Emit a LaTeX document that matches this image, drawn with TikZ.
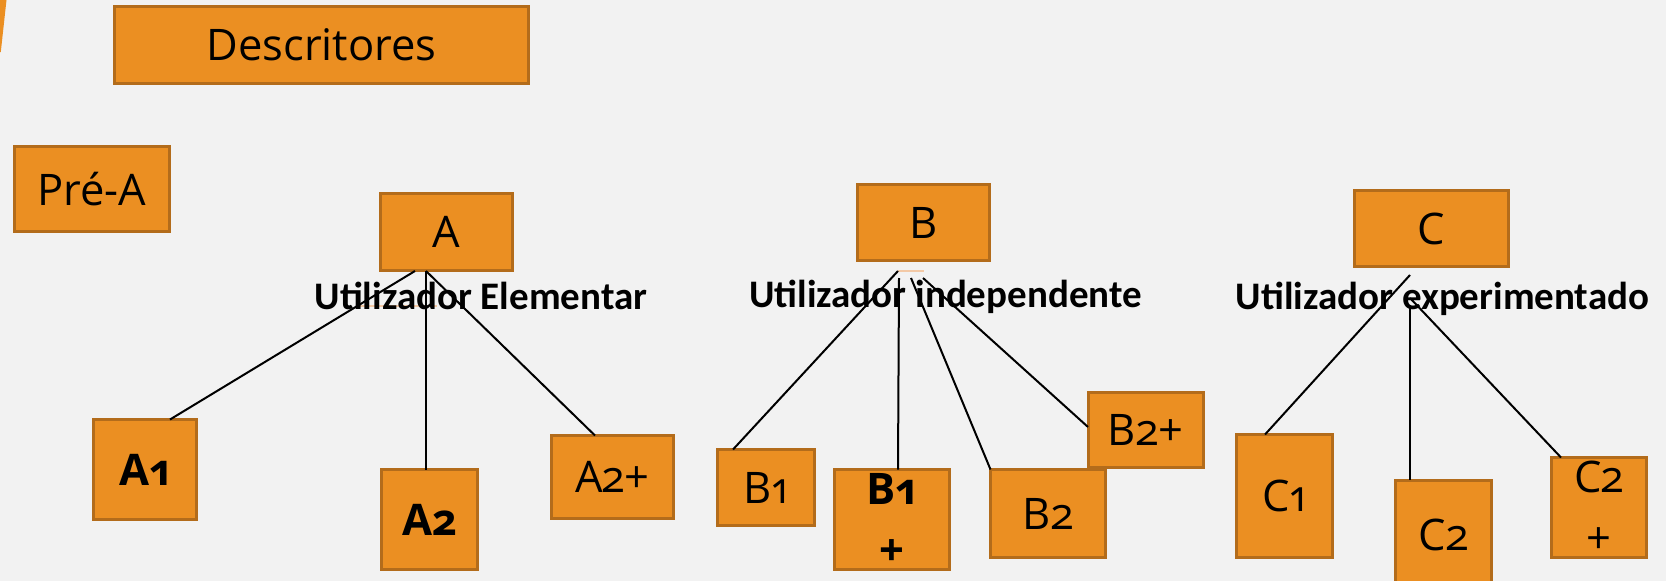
\documentclass[tikz,border=0pt]{standalone}
\usepackage{fontspec}
\setmainfont{Open Sans}[Numbers=OldStyle]
\newfontfamily\labfont{Carlito}
\definecolor{bg}{HTML}{F2F2F2}
\definecolor{boxfill}{HTML}{EB8F22}
\definecolor{boxline}{HTML}{B36C1B}
\definecolor{peach}{HTML}{F3C9A6}
\tikzset{
  box/.style={draw=boxline, fill=boxfill, line width=3pt, inner sep=0pt, outer sep=0pt,
    font=\fontsize{43.5}{61}\selectfont, align=center, text=black},
  lbl/.style={font=\labfont\bfseries\fontsize{39}{42}\selectfont, anchor=base, inner sep=0pt},
  conn/.style={draw=black, line width=2pt},
  artifact/.style={draw=peach, line width=2pt}
}
\begin{document}
\begin{tikzpicture}[x=1pt,y=-1pt]
\useasboundingbox (0,0) rectangle (1666,581);
\clip (0,0) rectangle (1666,581);
\fill[bg] (0,0) rectangle (1666,581);
\fill[boxfill] (0,0) -- (6.5,0) -- (0.8,52) -- (0,52) -- cycle;

% artifacts
\coordinate (pa1) at (358,306); \coordinate (pa2) at (437,306);
\coordinate (pb1) at (898,271); \coordinate (pb2) at (924,271);
\draw[artifact] (pa1) -- (pa2);
\draw[artifact] (pb1) -- (pb2);

% top boxes
\node[box, minimum width=414pt, minimum height=77pt] (desc) at (321.5,45) {Descritores};
\node[box, minimum width=155pt, minimum height=85pt] (prea) at (92,189) {Pré-A};
\node[box, minimum width=132pt, minimum height=77pt] (A) at (446.5,232) {A};
\node[box, minimum width=132pt, minimum height=76pt] (B) at (923.5,222.5) {B};
\node[box, minimum width=154pt, minimum height=76pt] (C) at (1431.5,228.5) {C};

% labels
\node[lbl] (la) at (481,309) {Utilizador Elementar};
\node[lbl] (lb) at (945.5,307) {Utilizador independente};
\node[lbl] (lc) at (1442.5,309) {Utilizador experimentado};

% bottom boxes
\node[box, minimum width=103pt, minimum height=100pt] (A1) at (145,469.5) {\bfseries A1};
\node[box, minimum width=96pt, minimum height=100pt] (A2) at (429.5,519.5) {\bfseries A2};
\node[box, minimum width=122pt, minimum height=83pt] (A2p) at (612.5,477) {A2+};
\node[box, minimum width=97pt, minimum height=76pt] (B1) at (766,487.5) {B1};
\node[box, minimum width=115pt, minimum height=100pt] (B1p) at (892,519.5) {\bfseries B1\\\bfseries +};
\node[box, minimum width=115pt, minimum height=88pt] (B2) at (1048,513.5) {B2};
\node[box, minimum width=115pt, minimum height=75pt] (B2p) at (1145.5,430) {B2+};
\node[box, minimum width=96pt, minimum height=123pt] (C1) at (1284.5,496) {C1};
\node[box, minimum width=96pt, minimum height=110pt] (C2) at (1443.5,535) {C2};
\node[box, minimum width=95pt, minimum height=100pt] (C2p) at (1599,507.5) {C2\\+};

% connector origins
\coordinate (aL) at (415,271);
\coordinate (aM) at (426,271);
\coordinate (bL) at (898,271);
\coordinate (bM) at (899,278);
\coordinate (bR) at (911,278);
\coordinate (bS) at (923,278);
\coordinate (cL) at (1410,275);
\coordinate (cM) at (1410,305);
\coordinate (cR) at (1410,298);

% connectors
\draw[conn] (aL) -- ([xshift=25pt]A1.north);
\draw[conn] (aM) -- ([xshift=-3.5pt]A2.north);
\draw[conn] (aM) -- ([xshift=-17.5pt]A2p.north);
\draw[conn] (bL) -- ([xshift=-33pt]B1.north);
\draw[conn] (bM) -- ([xshift=6pt]B1p.north);
\draw[conn] (bR) -- (B2.north west);
\draw[conn] (bS) -- ([yshift=3pt]B2p.west);
\draw[conn] (cL) -- ([xshift=-19.5pt]C1.north);
\draw[conn] (cM) -- ([xshift=-33.5pt]C2.north);
\draw[conn] (cR) -- ([xshift=-38pt]C2p.north);
\end{tikzpicture}
\end{document}
